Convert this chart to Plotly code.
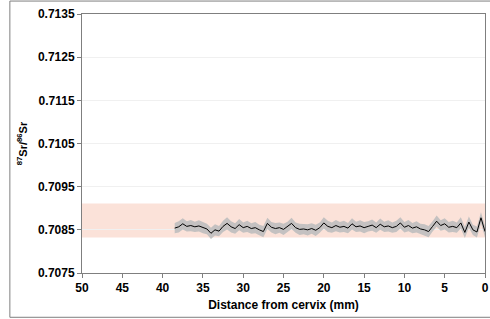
import plotly.graph_objects as go

# Distance from cervix (mm)
distance = [38.5, 38.0, 37.5, 37.0, 36.5, 36.0, 35.5, 35.0, 34.5, 34.0,
            33.5, 33.0, 32.5, 32.0, 31.5, 31.0, 30.5, 30.0, 29.5, 29.0,
            28.5, 28.0, 27.5, 27.0, 26.5, 26.0, 25.5, 25.0, 24.5, 24.0,
            23.5, 23.0, 22.5, 22.0, 21.5, 21.0, 20.5, 20.0, 19.5, 19.0,
            18.5, 18.0, 17.5, 17.0, 16.5, 16.0, 15.5, 15.0, 14.5, 14.0,
            13.5, 13.0, 12.5, 12.0, 11.5, 11.0, 10.5, 10.0, 9.5, 9.0,
            8.5, 8.0, 7.5, 7.0, 6.5, 6.0, 5.5, 5.0, 4.5, 4.0,
            3.5, 3.0, 2.5, 2.0, 1.5, 1.0, 0.5, 0.0]

# 87Sr/86Sr ratio
sr_ratio = [0.70854, 0.70857, 0.70864, 0.70858, 0.70860, 0.70857, 0.70859, 0.70855, 0.70852, 0.70842,
            0.70850, 0.70847, 0.70858, 0.70865, 0.70857, 0.70853, 0.70862, 0.70855, 0.70858, 0.70853,
            0.70855, 0.70850, 0.70846, 0.70865, 0.70856, 0.70853, 0.70855, 0.70851, 0.70857, 0.70865,
            0.70855, 0.70851, 0.70852, 0.70850, 0.70853, 0.70849, 0.70855, 0.70866, 0.70858, 0.70855,
            0.70860, 0.70856, 0.70858, 0.70854, 0.70864, 0.70857, 0.70859, 0.70855, 0.70858, 0.70861,
            0.70855, 0.70863, 0.70857, 0.70859, 0.70855, 0.70858, 0.70866, 0.70856, 0.70860, 0.70854,
            0.70857, 0.70852, 0.70850, 0.70846, 0.70858, 0.70870, 0.70860, 0.70864, 0.70856, 0.70858,
            0.70855, 0.70866, 0.70844, 0.70868, 0.70850, 0.70845, 0.70878, 0.70846]

# Uncertainty (half-width of the grey envelope)
sr_err = [0.00012, 0.00013, 0.00013, 0.00012, 0.00013, 0.00012, 0.00013, 0.00013, 0.00012, 0.00013,
          0.00013, 0.00012, 0.00013, 0.00014, 0.00013, 0.00012, 0.00013, 0.00012, 0.00013, 0.00012,
          0.00013, 0.00012, 0.00013, 0.00013, 0.00012, 0.00013, 0.00012, 0.00013, 0.00012, 0.00013,
          0.00012, 0.00013, 0.00012, 0.00013, 0.00012, 0.00013, 0.00012, 0.00013, 0.00013, 0.00012,
          0.00013, 0.00012, 0.00013, 0.00012, 0.00013, 0.00012, 0.00013, 0.00013, 0.00012, 0.00013,
          0.00012, 0.00013, 0.00012, 0.00013, 0.00012, 0.00013, 0.00013, 0.00012, 0.00013, 0.00012,
          0.00013, 0.00012, 0.00013, 0.00013, 0.00012, 0.00013, 0.00012, 0.00013, 0.00012, 0.00013,
          0.00012, 0.00013, 0.00013, 0.00013, 0.00012, 0.00013, 0.00013, 0.00013]

# Local range (pink band)
band_low = 0.708325
band_high = 0.70911

x_ticks = [50, 45, 40, 35, 30, 25, 20, 15, 10, 5, 0]
y_ticks = [0.7075, 0.7085, 0.7095, 0.7105, 0.7115, 0.7125, 0.7135]

upper = [v + e for v, e in zip(sr_ratio, sr_err)]
lower = [v - e for v, e in zip(sr_ratio, sr_err)]

fig = go.Figure()
fig.add_trace(go.Scatter(x=distance, y=upper, mode="lines", line=dict(width=0),
                         hoverinfo="skip", showlegend=False))
fig.add_trace(go.Scatter(x=distance, y=lower, mode="lines", line=dict(width=0),
                         fill="tonexty", fillcolor="rgba(190,190,190,0.9)",
                         hoverinfo="skip", showlegend=False))
fig.add_trace(go.Scatter(x=distance, y=sr_ratio, mode="lines",
                         line=dict(color="black", width=1), showlegend=False))

fig.add_shape(type="rect", xref="x", yref="y", x0=50, x1=0, y0=band_low, y1=band_high,
              fillcolor="#FBE2D9", line=dict(width=0), layer="below")

# outer frame
fig.add_shape(type="rect", xref="paper", yref="paper",
              x0=-0.179, x1=1.03, y0=-0.171, y1=1.050,
              line=dict(color="#7f7f7f", width=1), fillcolor="rgba(0,0,0,0)")

font = dict(family="Liberation Sans, Arial, sans-serif", size=12, color="black")

fig.update_layout(
    width=490, height=319,
    margin=dict(l=82, r=5, t=14, b=46),
    paper_bgcolor="white", plot_bgcolor="white",
    font=font,
    xaxis=dict(range=[50, 0], tickvals=x_ticks, ticktext=[f"<b>{t}</b>" for t in x_ticks],
               showgrid=False, zeroline=False, automargin=False, ticklabeloverflow="allow",
               showline=True, linecolor="#7f7f7f", linewidth=1, mirror=True,
               ticks="outside", ticklen=4, tickcolor="#7f7f7f",
               title=dict(text="<b>Distance from cervix (mm)</b>", font=dict(size=12), standoff=6)),
    yaxis=dict(range=[0.7075, 0.7135], tickvals=y_ticks,
               ticktext=[f"<b>{t:.4f}</b>" for t in y_ticks],
               showgrid=True, gridcolor="#f0f0f0", gridwidth=1, zeroline=False,
               automargin=False, ticklabeloverflow="allow",
               showline=True, linecolor="#7f7f7f", linewidth=1, mirror=True,
               ticks="outside", ticklen=4, tickcolor="#7f7f7f",
               title=dict(text="<b><sup>87</sup>Sr/<sup>86</sup>Sr</b>", font=dict(size=11), standoff=8)),
)

fig.write_html("out.html", config={"displayModeBar": False},
               post_script="document.body.style.margin='0';")
